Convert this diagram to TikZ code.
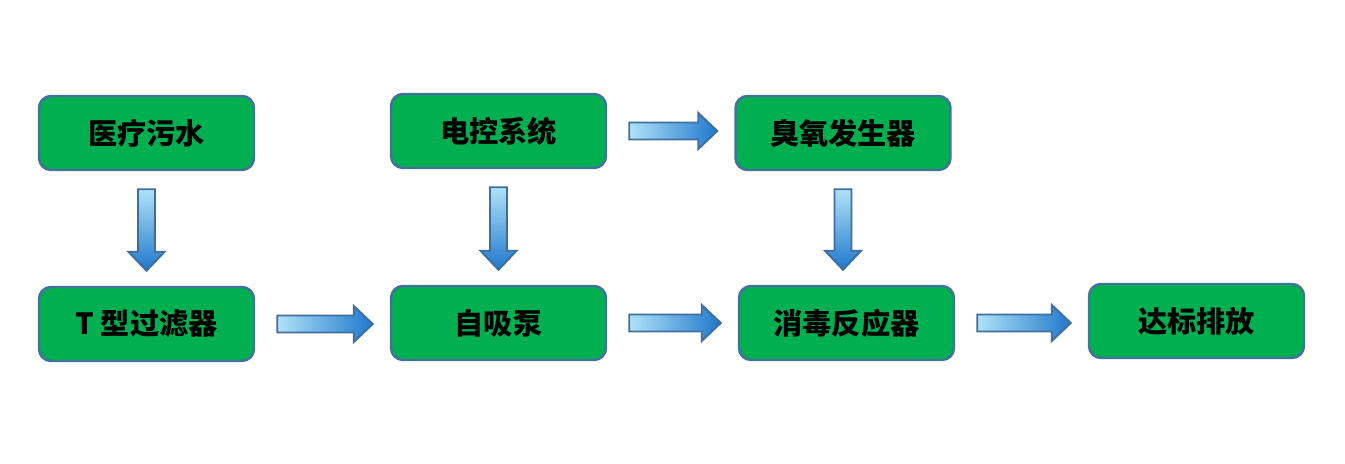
\documentclass[tikz,border=0pt]{standalone}
\usepackage{fontspec}
\newfontfamily\cjk{Noto Sans CJK SC}
\usepackage{tikz}
\usetikzlibrary{calc}
\definecolor{boxgreen}{HTML}{00B050}
\definecolor{boxedge}{HTML}{41719C}
\definecolor{arrlight}{HTML}{B0E2F8}
\definecolor{arrdark}{HTML}{1F78CC}
\definecolor{arrline}{HTML}{3F6E9E}
\tikzset{
  stepbox/.style={draw=boxedge,fill=boxgreen,line width=1.4pt,rounded corners=2.4mm,
    minimum width=4.3cm,minimum height=1.48cm,inner sep=0pt,font=\cjk\bfseries\fontsize{16.6}{19}\selectfont},
  arrbody/.style={draw=arrline,line width=1.1pt},
  rarr/.style={arrbody,left color=arrlight,right color=arrdark,
    to path={let \p1=($(\tikztostart.east)+(0.44,0)$), \p2=($(\tikztotarget.west)-(0.34,0)$) in
      (\x1,\y1+0.17cm) -- (\x2-0.38cm,\y1+0.17cm) -- (\x2-0.38cm,\y1+0.36cm) -- (\x2,\y1)
      -- (\x2-0.38cm,\y1-0.36cm) -- (\x2-0.38cm,\y1-0.17cm) -- (\x1,\y1-0.17cm) -- cycle}},
  darr/.style={arrbody,top color=arrlight,bottom color=arrdark,
    to path={let \p1=($(\tikztostart.south)-(0,0.36)$), \p2=($(\tikztotarget.north)+(0,0.30)$) in
      (\x1-0.17cm,\y1) -- (\x1-0.17cm,\y2+0.38cm) -- (\x1-0.36cm,\y2+0.38cm) -- (\x1,\y2)
      -- (\x1+0.36cm,\y2+0.38cm) -- (\x1+0.17cm,\y2+0.38cm) -- (\x1+0.17cm,\y1) -- cycle}},
}
\begin{document}
\begin{tikzpicture}
  \useasboundingbox (0,0) rectangle (26.9,9.28);
  \node[stepbox] (nsew) at (2.93,6.62) {医疗污水};
  \node[stepbox] (nctl) at (9.97,6.66) {电控系统};
  \node[stepbox] (nozo) at (16.86,6.62) {臭氧发生器};
  \node[stepbox] (nflt) at (2.93,2.80) {T 型过滤器};
  \node[stepbox] (npump) at (9.97,2.82) {自吸泵};
  \node[stepbox] (nreact) at (16.93,2.82) {消毒反应器};
  \node[stepbox] (nout) at (23.93,2.86) {达标排放};
  \path[darr] (nsew) to (nflt);
  \path[darr] (nctl) to (npump);
  \path[darr] (nozo) to (nreact);
  \path[rarr] (nctl) to (nozo);
  \path[rarr] (nflt) to (npump);
  \path[rarr] (npump) to (nreact);
  \path[rarr] (nreact) to (nout);
\end{tikzpicture}
\end{document}
